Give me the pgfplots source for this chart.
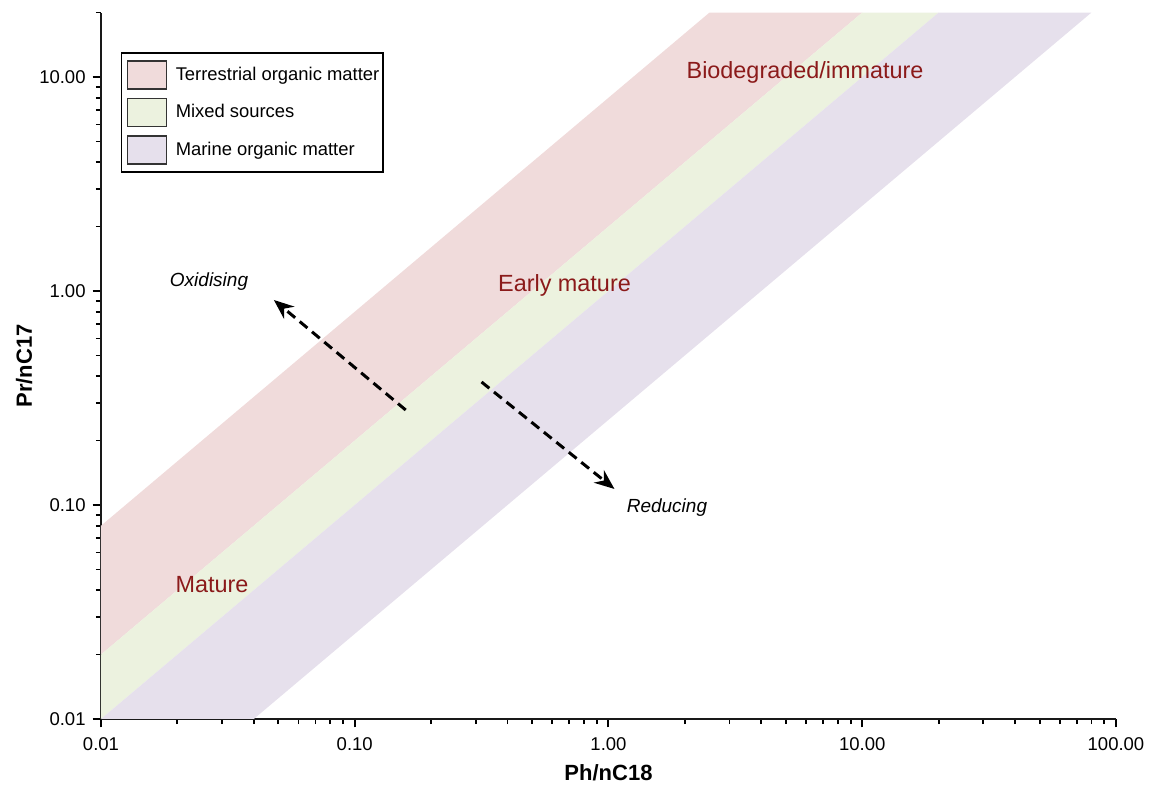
\documentclass[border=0pt]{standalone}
\usepackage{fontspec}
\setmainfont{Liberation Sans}
\usepackage{pgfplots}
\pgfplotsset{compat=1.18}
\usetikzlibrary{arrows.meta}
\definecolor{terr}{RGB}{240,219,219}
\definecolor{mixed}{RGB}{236,242,223}
\definecolor{marine}{RGB}{230,224,236}
\definecolor{darkred}{RGB}{139,26,26}
\begin{document}
\begin{tikzpicture}
\begin{axis}[
 xmode=log, ymode=log,
 scale only axis, width=507.5pt, height=353.2pt,
 xmin=0.01, xmax=100, ymin=0.01, ymax=20,
 axis x line*=bottom, axis y line*=left,
 axis line style={line width=1pt, black!90},
 tick align=outside,
 major tick length=4.2pt, minor tick length=2.6pt,
 every major tick/.style={line width=1pt, black},
 every minor tick/.style={line width=0.9pt, black},
 xtick={0.01,0.1,1,10,100}, xticklabels={0.01,0.10,1.00,10.00,100.00},
 ytick={0.01,0.1,1,10}, yticklabels={0.01,0.10,1.00,10.00},
 minor xtick={0.02,0.03,0.04,0.05,0.06,0.07,0.08,0.09,0.2,0.3,0.4,0.5,0.6,0.7,0.8,0.9,2,3,4,5,6,7,8,9,20,30,40,50,60,70,80,90},
 minor ytick={0.02,0.03,0.04,0.05,0.06,0.07,0.08,0.09,0.2,0.3,0.4,0.5,0.6,0.7,0.8,0.9,2,3,4,5,6,7,8,9,20},
 ticklabel style={font=\fontsize{9.25}{11}\selectfont},
 xticklabel style={yshift=-1.5pt},
 xlabel={Ph/nC18}, ylabel={Pr/nC17},
 label style={font=\bfseries\fontsize{11}{13}\selectfont},
 xlabel style={at={(axis description cs:0.5,-0.0864)}, anchor=base},
 ylabel style={at={(axis description cs:-0.068,0.5)}, anchor=base},
 legend style={at={(rel axis cs:0.0194,0.9438)}, anchor=north west, draw=black, line width=0.8pt,
   font=\fontsize{9.2}{11}\selectfont, cells={anchor=west}, inner xsep=1pt, inner ysep=3.5pt, row sep=4pt,
   nodes={inner xsep=1pt}},
 legend image code/.code={\path (-2pt,0pt) (23.15pt,0pt);\draw[#1, draw=black!80, line width=0.8pt] (0pt,-7pt) rectangle (19.5pt,7pt);},
]
\addplot[fill=terr, draw=none, mark=none] coordinates {(0.01,0.08) (2.5,20) (10,20) (0.01,0.02)} -- cycle;
\addlegendentry{Terrestrial organic matter}
\addplot[fill=mixed, draw=none, mark=none] coordinates {(0.01,0.02) (10,20) (20,20) (0.01,0.01)} -- cycle;
\addlegendentry{Mixed sources}
\addplot[fill=marine, draw=none, mark=none] coordinates {(0.01,0.01) (20,20) (80,20) (0.04,0.01)} -- cycle;
\addlegendentry{Marine organic matter}

\addplot[forget plot, mark=none, black, line width=1.5pt, dash pattern=on 5pt off 3pt, -{Stealth[length=10pt,width=8pt]}] coordinates {(0.1588,0.278) (0.048,0.908)};
\addplot[forget plot, mark=none, black, line width=1.5pt, dash pattern=on 5pt off 3pt, -{Stealth[length=10pt,width=8pt]}] coordinates {(0.316,0.3757) (1.056,0.1188)};

\node[text=darkred, font=\fontsize{11.7}{14}\selectfont] at (axis cs:5.95,10.55) {Biodegraded/immature};
\node[text=darkred, font=\fontsize{11.7}{14}\selectfont] at (axis cs:0.671,1.067) {Early mature};
\node[text=darkred, font=\fontsize{11.7}{14}\selectfont] at (axis cs:0.02737,0.04227) {Mature};
\node[font=\itshape\fontsize{9.5}{11}\selectfont] at (axis cs:0.02665,1.102) {Oxidising};
\node[font=\itshape\fontsize{9.5}{11}\selectfont] at (axis cs:1.70,0.0968) {Reducing};
\end{axis}
\pgfresetboundingbox
\path (-50.5pt,-33pt) rectangle (524.5pt,359.5pt);
\end{tikzpicture}
\end{document}
